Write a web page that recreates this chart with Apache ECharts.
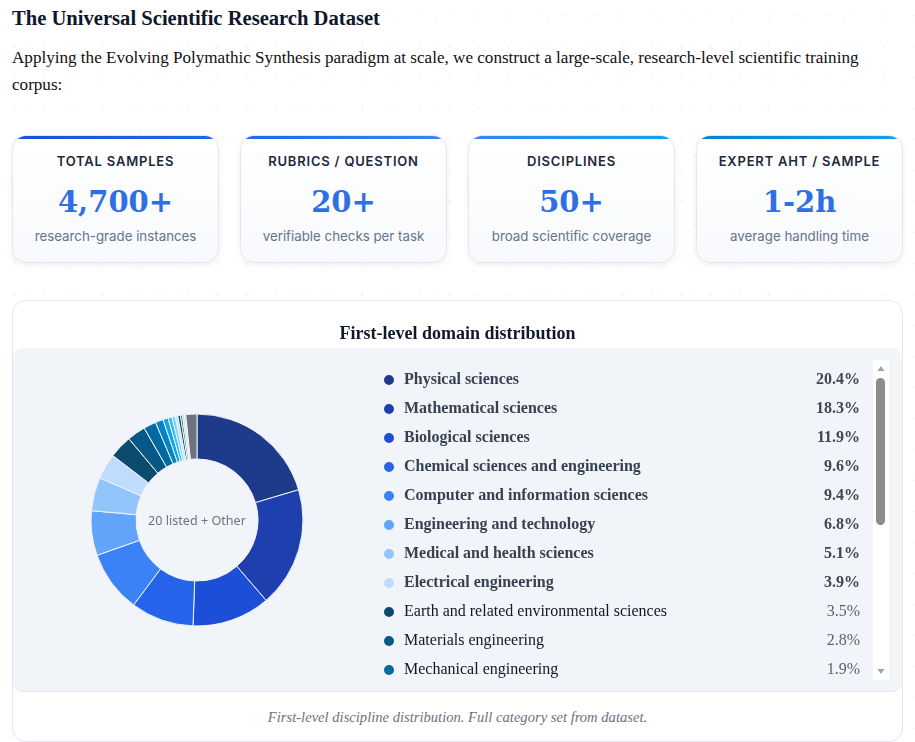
<!DOCTYPE html>
<html>
<head>
<meta charset="utf-8">
<script src="https://cdn.jsdelivr.net/npm/echarts@6/dist/echarts.min.js"></script>
<style>
  html, body { margin: 0; padding: 0; width: 915px; height: 742px; overflow: hidden; background: #ffffff; }
  body {
    background-image: radial-gradient(circle, rgba(203,213,225,0.18) 1px, transparent 1.6px),
                      radial-gradient(circle, rgba(203,213,225,0.14) 1px, transparent 1.6px);
    background-size: 29px 31px, 37px 23px;
    background-position: 0 0, 11px 7px;
    position: relative;
  }
  h1 { position: absolute; left: 12px; top: 4px; margin: 0; font: bold 20.6px/28px 'Liberation Serif', 'Times New Roman', serif; color: #0f172a; }
  p.lead { position: absolute; left: 12px; top: 44px; width: 885px; margin: 0; font: 17.1px/27px 'Liberation Serif', 'Times New Roman', serif; color: #111; }
  .card { position: absolute; top: 135px; width: 205px; height: 126px; border: 1px solid #e2e8f0; border-radius: 14px;
    background: linear-gradient(#ffffff, #f7f9fc); box-shadow: 0 2px 6px rgba(15,23,42,0.07); overflow: hidden; text-align: center; }
  .card .bar { position: absolute; left: 0; right: 0; top: 0; height: 3px; }
  .card .lab { position: absolute; left: 0; right: 0; top: 16px; font: 600 13px/18px Inter, 'Open Sans', sans-serif; letter-spacing: 0.8px; color: #1e293b; }
  .card .val { position: absolute; left: 0; right: 0; top: 48px; font: bold 29px/36px 'DejaVu Serif', serif; color: #2f6fe4; }
  .card .sub { position: absolute; left: 0; right: 0; top: 91px; font: 13.3px/18px Inter, 'Open Sans', sans-serif; color: #64748b; }
  .panel { position: absolute; left: 12px; top: 300px; width: 889px; height: 440px; border: 1px solid #e5e7eb; border-radius: 14px; background: #fff; overflow: hidden; }
  .greybox { position: absolute; left: 0; right: 0; top: 47px; height: 343px; background: #f1f4f9; border-radius: 10px; border-bottom: 1px solid #e2e6ec; }
  #chart { position: absolute; left: 0; top: 0; width: 889px; height: 391px; }
  .caption { position: absolute; left: 0; right: 0; top: 406px; text-align: center; font: italic 14.6px/20px 'Liberation Serif', 'Times New Roman', serif; color: #6b7280; }
</style>
</head>
<body>
<h1>The Universal Scientific Research Dataset</h1>
<p class="lead">Applying the Evolving Polymathic Synthesis paradigm at scale, we construct a large-scale, research-level scientific training corpus:</p>

<div id="cards"></div>

<div class="panel">
  <div class="greybox"></div>
  <div id="chart"></div>
  <div class="caption">First-level discipline distribution. Full category set from dataset.</div>
</div>

<script>
// ---- Stat cards ----
const cardLabels = ['TOTAL SAMPLES', 'RUBRICS / QUESTION', 'DISCIPLINES', 'EXPERT AHT / SAMPLE'];
const cardValues = ['4,700+', '20+', '50+', '1-2h'];
const cardSubs = ['research-grade instances', 'verifiable checks per task', 'broad scientific coverage', 'average handling time'];
const cardBars = [
  'linear-gradient(90deg,#1d4ed8,#2563eb)',
  'linear-gradient(90deg,#2563eb,#3b82f6)',
  'linear-gradient(90deg,#3b82f6,#0ea5e9)',
  'linear-gradient(90deg,#0284c7,#0ea5e9)'
];
const cardLefts = [12, 240, 468, 696];
const cardsEl = document.getElementById('cards');
cardLabels.forEach((l, i) => {
  const d = document.createElement('div');
  d.className = 'card';
  d.style.left = cardLefts[i] + 'px';
  d.innerHTML = '<div class="bar" style="background:' + cardBars[i] + '"></div>' +
    '<div class="lab">' + l + '</div><div class="val">' + cardValues[i] + '</div><div class="sub">' + cardSubs[i] + '</div>';
  cardsEl.appendChild(d);
});

// ---- Domain distribution data ----
const domainNames = [
  'Physical sciences',
  'Mathematical sciences',
  'Biological sciences',
  'Chemical sciences and engineering',
  'Computer and information sciences',
  'Engineering and technology',
  'Medical and health sciences',
  'Electrical engineering',
  'Earth and related environmental sciences',
  'Materials engineering',
  'Mechanical engineering',
  'Civil engineering',
  'Agricultural sciences',
  'Environmental engineering',
  'Economics and business',
  'Psychology and cognitive sciences',
  'Nanotechnology',
  'Industrial biotechnology',
  'Social sciences',
  'Humanities and the arts',
  'Other'
];
const domainShares = [20.4, 18.3, 11.9, 9.6, 9.4, 6.8, 5.1, 3.9, 3.5, 2.8, 1.9,
  1.2, 0.8, 0.6, 0.5, 0.4, 0.4, 0.3, 0.3, 0.2, 1.7];
const domainColors = ['#1e3a8a', '#1e40af', '#1d4ed8', '#2563eb', '#3b82f6', '#60a5fa', '#93c5fd', '#bfdbfe',
  '#0c4a6e', '#075985', '#0369a1', '#0284c7', '#0ea5e9', '#38bdf8', '#7dd3fc', '#bae6fd',
  '#134e4a', '#0f766e', '#cbd5e1', '#a5b4c8', '#6b7280'];
const centerText = '20 listed + Other';
const chartTitle = 'First-level domain distribution';
const boldCount = 8;

const chart = echarts.init(document.getElementById('chart'), null, { renderer: 'canvas' });
const serif = "'Liberation Serif', 'Times New Roman', serif";

chart.setOption({
  backgroundColor: 'transparent',
  animation: false,
  title: [
    { text: chartTitle, left: 'center', top: 19,
      textStyle: { fontFamily: serif, fontWeight: 'bold', fontSize: 18, color: '#111827' } },
    { text: centerText, left: 184, top: 214, padding: 0, textAlign: 'center',
      textStyle: { fontFamily: "'Noto Sans', 'Open Sans', sans-serif", fontWeight: 'normal', fontSize: 12.6, color: '#6b7280' } }
  ],
  legend: {
    type: 'scroll',
    orient: 'vertical',
    left: 369,
    top: 69,
    padding: 0,
    height: 318,
    icon: 'circle',
    itemWidth: 12,
    itemHeight: 12,
    itemGap: 9,
    pageIconSize: 1,
    pageIconColor: 'rgba(0,0,0,0)',
    pageIconInactiveColor: 'rgba(0,0,0,0)',
    pageFormatter: '',
    pageTextStyle: { fontSize: 1, color: 'rgba(0,0,0,0)' },
    pageButtonGap: 0,
    data: domainNames.map(n => n),
    formatter: function (name) {
      const i = domainNames.indexOf(name);
      const pct = domainShares[i].toFixed(1) + '%';
      return i < boldCount ? '{nb|' + name + '}{pb|' + pct + '}' : '{n|' + name + '}{p|' + pct + '}';
    },
    textStyle: {
      fontFamily: serif, fontSize: 16, lineHeight: 20,
      rich: {
        nb: { fontFamily: serif, fontSize: 16, fontWeight: 'bold', color: '#374151', width: 399, padding: [0, 0, 0, 4], lineHeight: 20 },
        pb: { fontFamily: serif, fontSize: 16, fontWeight: 'bold', color: '#3f4654', width: 57, align: 'right', lineHeight: 20 },
        n: { fontFamily: serif, fontSize: 16, fontWeight: 'normal', color: '#111827', width: 399, padding: [0, 0, 0, 4], lineHeight: 20 },
        p: { fontFamily: serif, fontSize: 16, fontWeight: 'normal', color: '#5b6170', width: 57, align: 'right', lineHeight: 20 }
      }
    }
  },
  series: [{
    type: 'pie',
    center: [184, 219],
    radius: [61, 106],
    startAngle: 90,
    clockwise: true,
    avoidLabelOverlap: false,
    label: { show: false },
    labelLine: { show: false },
    itemStyle: { borderColor: '#f1f4f9', borderWidth: 1 },
    data: domainNames.map((n, i) => ({ name: n, value: domainShares[i], itemStyle: { color: domainColors[i] } }))
  }],
  graphic: [
    { type: 'rect', shape: { x: 860, y: 59, width: 16, height: 320 }, style: { fill: '#ffffff' }, silent: true },
    { type: 'rect', shape: { x: 863, y: 77, width: 9, height: 147, r: 4.5 }, style: { fill: '#8c8c8c' }, silent: true },
    { type: 'polygon', shape: { points: [[864.5, 70], [871.5, 70], [868, 65]] }, style: { fill: '#a3a3a3' }, silent: true },
    { type: 'polygon', shape: { points: [[864.5, 368], [871.5, 368], [868, 373]] }, style: { fill: '#a3a3a3' }, silent: true }
  ]
});
</script>
</body>
</html>
